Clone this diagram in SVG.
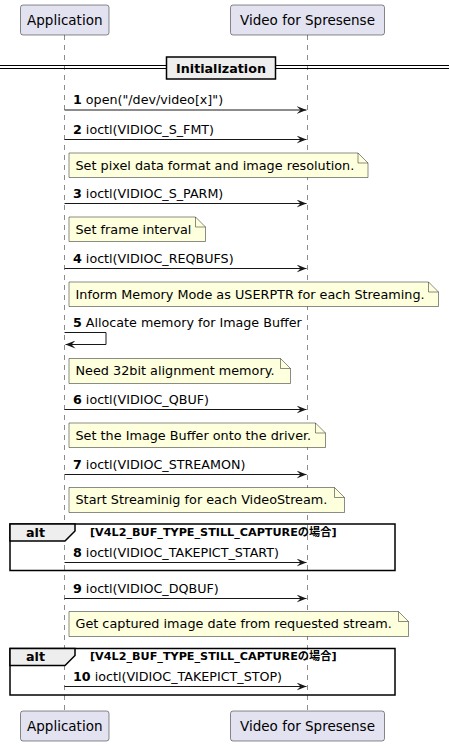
<svg xmlns="http://www.w3.org/2000/svg" width="449" height="746" viewBox="0 0 449 746">
<defs>
<style>
text{font-family:"DejaVu Sans","Noto Sans CJK JP",sans-serif;fill:#000}
.part rect{fill:#E2E2F0;stroke:#181818;stroke-width:0.5}
.part text{font-size:13.5px;text-anchor:middle}
.life{stroke:#181818;stroke-width:0.5;stroke-dasharray:5,5}
.msg line,.msg polyline{stroke:#181818;stroke-width:1;fill:none}
.msg text{font-size:12.7px}
.num{font-weight:bold}
.note path{fill:#FEFFDD;stroke:#181818;stroke-width:0.5}
.note text{font-size:12.8px}
.frame{fill:none;stroke:#000;stroke-width:1.5}
.tab{fill:#EEEEEE;stroke:#000;stroke-width:1.5}
.bold{font-weight:bold}
</style>
<marker id="ah" viewBox="0 0 10 8" refX="10" refY="4" markerWidth="10" markerHeight="8" markerUnits="userSpaceOnUse" orient="auto">
<path d="M0,0 L10,4 L0,8 L4,4 Z" fill="#181818"/>
</marker>
</defs>
<rect width="449" height="746" fill="#FFFFFF"/>
<g id="lifelines">
<line class="life" x1="64.5" y1="35" x2="64.5" y2="711"/>
<line class="life" x1="307.5" y1="35" x2="307.5" y2="711"/>
</g>
<g id="participant-application" class="part">
<rect x="20.5" y="5" width="88.5" height="30" rx="2.5"/>
<text x="64.75" y="25">Application</text>
<rect x="20.5" y="711" width="88.5" height="30" rx="2.5"/>
<text x="64.75" y="731">Application</text>
</g>
<g id="participant-video" class="part">
<rect x="230.5" y="5" width="154" height="30" rx="2.5"/>
<text x="307.5" y="25">Video for Spresense</text>
<rect x="230.5" y="711" width="154" height="30" rx="2.5"/>
<text x="307.5" y="731">Video for Spresense</text>
</g>
<g id="divider-initialization">
<line x1="0" y1="65.5" x2="449" y2="65.5" stroke="#000" stroke-width="1"/>
<line x1="0" y1="68.5" x2="449" y2="68.5" stroke="#000" stroke-width="1"/>
<rect x="166.5" y="57" width="109" height="22" fill="#EEEEEE" stroke="#000" stroke-width="1.5"/>
<text x="221" y="72.5" class="bold" font-size="12.7" text-anchor="middle">Initialization</text>
</g>
<g id="notes">
<g id="note1" class="note">
<path d="M69,153 L69,177.5 L368,177.5 L368,163 L358,153 Z M358,153 L358,163 L368,163"/>
<text x="75.5" y="169.5">Set pixel data format and image resolution.</text>
</g>
<g id="note2" class="note">
<path d="M69,217 L69,241.5 L205.5,241.5 L205.5,227 L195.5,217 Z M195.5,217 L195.5,227 L205.5,227"/>
<text x="75.5" y="233.5">Set frame interval</text>
</g>
<g id="note3" class="note">
<path d="M69,282 L69,306.5 L438.5,306.5 L438.5,292 L428.5,282 Z M428.5,282 L428.5,292 L438.5,292"/>
<text x="75.5" y="298.5">Inform Memory Mode as USERPTR for each Streaming.</text>
</g>
<g id="note4" class="note">
<path d="M69,358.5 L69,383.5 L290.5,383.5 L290.5,368.5 L280.5,358.5 Z M280.5,358.5 L280.5,368.5 L290.5,368.5"/>
<text x="75.5" y="375">Need 32bit alignment memory.</text>
</g>
<g id="note5" class="note">
<path d="M69,423 L69,447.5 L325.5,447.5 L325.5,433 L315.5,423 Z M315.5,423 L315.5,433 L325.5,433"/>
<text x="75.5" y="439.5">Set the Image Buffer onto the driver.</text>
</g>
<g id="note6" class="note">
<path d="M69,487.5 L69,512.5 L344.5,512.5 L344.5,497.5 L334.5,487.5 Z M334.5,487.5 L334.5,497.5 L344.5,497.5"/>
<text x="75.5" y="504">Start Streaminig for each VideoStream.</text>
</g>
<g id="note7" class="note">
<path d="M69,611.5 L69,636.5 L408.5,636.5 L408.5,621.5 L398.5,611.5 Z M398.5,611.5 L398.5,621.5 L408.5,621.5"/>
<text x="75.5" y="628">Get captured image date from requested stream.</text>
</g>
</g>
<g id="alt-frames">
<g id="alt1">
<rect class="frame" x="10" y="524" width="385" height="46.5"/>
<path class="tab" d="M10,524 L75,524 L75,531 L65,541 L10,541 Z"/>
<text x="26" y="536.5" class="bold" font-size="12.7">alt</text>
<text x="90" y="535.5" class="bold" font-size="11.2">[V4L2_BUF_TYPE_STILL_CAPTUREの場合]</text>
</g>
<g id="alt2">
<rect class="frame" x="10" y="648.5" width="385" height="46.5"/>
<path class="tab" d="M10,648.5 L75,648.5 L75,655.5 L65,665.5 L10,665.5 Z"/>
<text x="26" y="661" class="bold" font-size="12.7">alt</text>
<text x="90" y="660" class="bold" font-size="11.2">[V4L2_BUF_TYPE_STILL_CAPTUREの場合]</text>
</g>
</g>
<g id="connectors" class="msg">
<line x1="64.5" y1="110" x2="306.5" y2="110" marker-end="url(#ah)"/>
<text x="73" y="104"><tspan class="num">1</tspan> open("/dev/video[x]")</text>
<line x1="64.5" y1="139.5" x2="306.5" y2="139.5" marker-end="url(#ah)"/>
<text x="73" y="133.5"><tspan class="num">2</tspan> ioctl(VIDIOC_S_FMT)</text>
<line x1="64.5" y1="203.5" x2="306.5" y2="203.5" marker-end="url(#ah)"/>
<text x="73" y="197.5"><tspan class="num">3</tspan> ioctl(VIDIOC_S_PARM)</text>
<line x1="64.5" y1="268.5" x2="306.5" y2="268.5" marker-end="url(#ah)"/>
<text x="73" y="262.5"><tspan class="num">4</tspan> ioctl(VIDIOC_REQBUFS)</text>
<polyline points="64.5,332.5 106,332.5 106,344.5 65.5,344.5" marker-end="url(#ah)"/>
<text x="73" y="326.5"><tspan class="num">5</tspan> Allocate memory for Image Buffer</text>
<line x1="64.5" y1="409.5" x2="306.5" y2="409.5" marker-end="url(#ah)"/>
<text x="73" y="403.5"><tspan class="num">6</tspan> ioctl(VIDIOC_QBUF)</text>
<line x1="64.5" y1="474.5" x2="306.5" y2="474.5" marker-end="url(#ah)"/>
<text x="73" y="468.5"><tspan class="num">7</tspan> ioctl(VIDIOC_STREAMON)</text>
<line x1="64.5" y1="562.5" x2="306.5" y2="562.5" marker-end="url(#ah)"/>
<text x="73" y="556.5"><tspan class="num">8</tspan> ioctl(VIDIOC_TAKEPICT_START)</text>
<line x1="64.5" y1="598.5" x2="306.5" y2="598.5" marker-end="url(#ah)"/>
<text x="73" y="592.5"><tspan class="num">9</tspan> ioctl(VIDIOC_DQBUF)</text>
<line x1="64.5" y1="686.5" x2="306.5" y2="686.5" marker-end="url(#ah)"/>
<text x="73" y="680.5"><tspan class="num">10</tspan> ioctl(VIDIOC_TAKEPICT_STOP)</text>
</g>
</svg>
